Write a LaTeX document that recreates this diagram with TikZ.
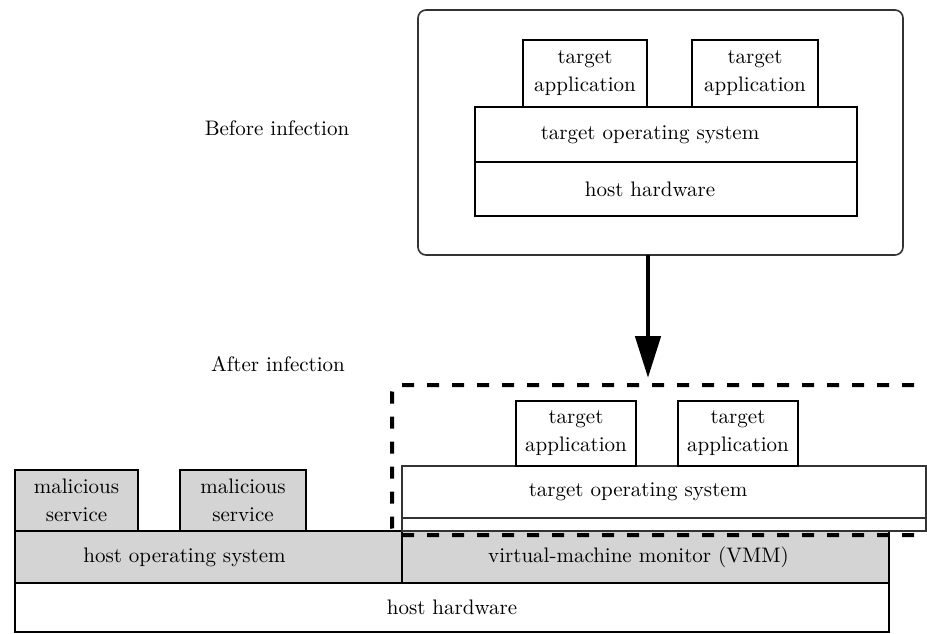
\documentclass[tikz,border=0pt]{standalone}
\usetikzlibrary{arrows.meta}
\definecolor{layergrey}{HTML}{D4D4D4}
\definecolor{framegrey}{HTML}{333333}
% label set off-centre to the left by half of #1
\newcommand\leftby[2]{\hbox{#2\kern#1}}
\tikzset{
  wh/.style 2 args={minimum width=#1*0.5pt, minimum height=#2*0.5pt},
  layer/.style={draw=black, line width=1.1pt, fill=white, inner sep=0pt, outer sep=0pt,
    align=center, font=\fontsize{10.5}{14}\selectfont},
  greylayer/.style={layer, fill=layergrey},
  thinlayer/.style={layer, draw=framegrey, line width=0.7pt},
  frame/.style={draw=framegrey, line width=0.8pt, rounded corners=4pt, inner sep=0pt, outer sep=0pt},
  dashframe/.style={draw=black, line width=2pt, dash pattern=on 6pt off 6.5pt,
    rounded corners=4pt, inner sep=0pt, outer sep=0pt},
  caption/.style={font=\fontsize{10.5}{13}\selectfont},
  bigarrow/.style={line width=2.4pt, -{Triangle[length=21pt, width=12.5pt]}},
}
\begin{document}
\begin{tikzpicture}[x=0.5pt, y=-0.5pt]
  \clip (0,0) rectangle (927,633);
  \fill[white] (0,0) rectangle (927,633);

  % before infection
  \node[frame, wh={485}{245}] (toutr) at (660.5,132.5) {};
  \node[layer, wh={124}{67}] (tapp1) at (585,73.5) {target\\application};
  \node[layer, wh={126}{67}, line width=1.4pt] (tapp2) at (755,73.5) {target\\application};
  \node[layer, wh={382}{55}] (tos) at (666,134.5) {\leftby{16pt}{target operating system}};
  \node[layer, wh={382}{54}] (thw) at (666,189) {\leftby{16pt}{host hardware}};
  \node[caption] (before) at (277,128) {Before infection};

  % after infection: host stack
  \node[layer, wh={874}{49}] (hhw) at (452,607.5) {host hardware};
  \node[greylayer, wh={387}{52}] (hos) at (208.5,557) {\leftby{24pt}{host operating system}};
  \node[greylayer, wh={487}{52}] (vmm) at (645.5,557) {\leftby{7pt}{virtual-machine monitor (VMM)}};
  \node[greylayer, wh={123}{61}] (mal1) at (76.5,500.5) {malicious\\service};
  \node[greylayer, wh={126}{61}] (mal2) at (243,500.5) {malicious\\service};

  % after infection: guest stack
  \node[thinlayer, wh={524}{13}] (bstrip) at (664,524.5) {};
  \node[thinlayer, wh={524}{52}] (bos) at (664,492) {\leftby{26pt}{target operating system}};
  \node[layer, wh={120}{65}] (bapp1) at (576,433.5) {target\\application};
  \node[layer, wh={120}{65}] (bapp2) at (738,433.5) {target\\application};
  \node[caption] (after) at (278,364) {After infection};

  % virtual machine boundary
  \node[dashframe, wh={555}{150}] (bdash) at (669.5,460) {};

  % infection step
  \coordinate (ax) at (648,0);
  \draw[bigarrow, shorten >=3.5pt] (toutr.south -| ax) -- (bdash.north -| ax);
\end{tikzpicture}
\end{document}
